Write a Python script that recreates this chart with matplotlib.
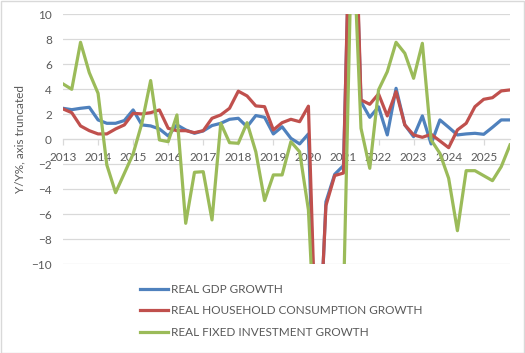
import matplotlib
matplotlib.use("Agg")
import matplotlib.pyplot as plt
from matplotlib.patches import Rectangle

# quarterly, 2013Q1 .. 2025Q4
years = [str(y) for y in range(2013, 2026)]

gdp = [2.48, 2.37, 2.48, 2.56, 1.55, 1.28, 1.28, 1.5, 2.35, 1.15,
       1.07, 0.83, 0.27, 1.15, 0.75, 0.48, 0.67, 1.1, 1.28, 1.6,
       1.68, 1.0, 1.9, 1.76, 0.43, 1.0, 0.08, -0.37, 0.43, -21.0,
       -5.0, -2.8, -2.1, 25.0, 3.0, 1.76, 2.6, 0.35, 4.08, 1.15,
       0.21, 1.87, -0.37, 1.55, 0.96, 0.35, 0.43, 0.48, 0.4, 0.96,
       1.55, 1.55]

consumption = [2.43, 2.13, 1.07, 0.69, 0.43, 0.43, 0.83, 1.15, 2.08, 2.03,
               2.13, 2.35, 0.88, 0.69, 0.69, 0.53, 0.69, 1.68, 1.95, 2.48,
               3.85, 3.47, 2.67, 2.61, 0.75, 1.33, 1.6, 1.41, 2.65, -20.0,
               -5.3, -2.9, -2.7, 27.0, 3.15, 2.8, 3.63, 1.87, 3.81, 1.15,
               0.35, 0.16, 0.4, -0.13, -0.67, 0.75, 1.28, 2.61, 3.2, 3.33,
               3.87, 3.95]

investment = [4.43, 4.0, 7.76, 5.33, 3.68, -2.05, -4.27, -2.72, -1.17, 1.28,
              4.7, -0.05, -0.19, 1.95, -6.72, -2.64, -2.59, -6.45, 1.28, -0.27,
              -0.32, 1.33, -1.0, -4.9, -2.85, -2.85, -0.19, -1.0, -5.65, -20.0,
              -15.0, -12.0, -13.0, 18.0, 0.88, -2.32, 3.95, 5.41, 7.76, 6.88,
              4.88, 7.68, -0.05, -1.12, -3.12, -7.31, -2.51, -2.51, -2.91, -3.31,
              -2.19, -0.45]

labels = ["REAL GDP GROWTH", "REAL HOUSEHOLD CONSUMPTION GROWTH",
          "REAL FIXED INVESTMENT GROWTH"]
colors = ["#4F81BD", "#C0504D", "#9BBB59"]

plt.rcParams["font.family"] = ["Lato", "DejaVu Sans"]
fs = 8.5
text_col = "#595959"
grid_col = "#D9D9D9"

fig = plt.figure(figsize=(5.25, 3.53), dpi=100)
ax = fig.add_axes([63 / 525, 1 - 264.3 / 353, (510 - 63) / 525, 250 / 353])

x = range(len(gdp))
for vals, lab, c in zip([gdp, consumption, investment], labels, colors):
    ax.plot(x, vals, color=c, lw=2.3, label=lab, solid_joinstyle="round")

ax.set_xlim(0, len(gdp) - 1)
ax.set_ylim(-10, 10)
ax.set_yticks(range(-10, 11, 2))
ax.set_xticks(range(0, len(gdp), 4))
ax.set_xticklabels(years)
ax.grid(axis="y", color=grid_col, lw=0.9)
ax.set_axisbelow(True)

for s in ["top", "right", "left"]:
    ax.spines[s].set_visible(False)
ax.spines["bottom"].set_position(("data", 0))
ax.spines["bottom"].set_color(grid_col)
ax.spines["bottom"].set_zorder(0)
ax.tick_params(axis="y", length=0, pad=8, colors=text_col, labelsize=fs)
ax.tick_params(axis="x", length=4, width=0.9, color=grid_col, pad=5,
               labelcolor=text_col, labelsize=fs)

fig.text(0.038, 1 - 139.3 / 353, "Y/Y%, axis truncated", rotation=90,
         ha="center", va="center", color=text_col, fontsize=fs)

leg = fig.legend(loc="upper left", bbox_to_anchor=(140 / 525, 1 - 284 / 353),
                 frameon=False, borderpad=0, borderaxespad=0,
                 handlelength=2.4, handletextpad=0.25, labelspacing=0.88,
                 fontsize=fs)
for t in leg.get_texts():
    t.set_color(text_col)

fig.patches.append(Rectangle((0.001, 0.001), 0.997, 0.997,
                             transform=fig.transFigure, fill=False,
                             edgecolor=grid_col, lw=1))

fig.savefig("out.png", dpi=100)
